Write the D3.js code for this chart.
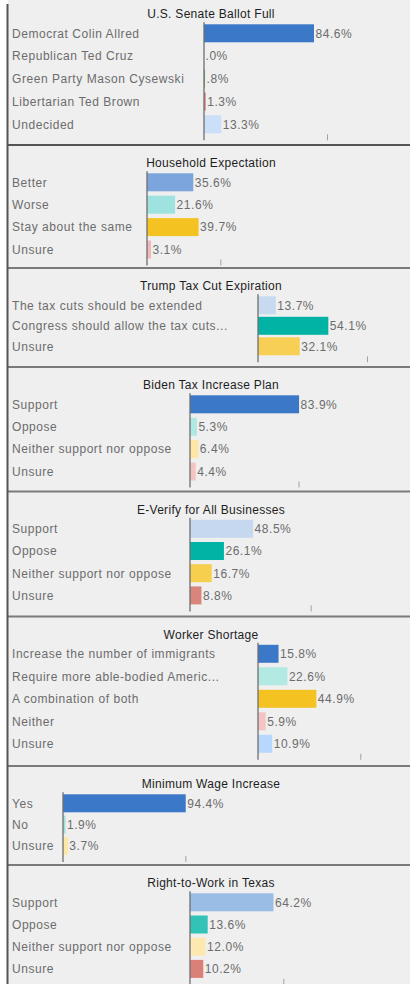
<!DOCTYPE html>
<html><head><meta charset="utf-8">
<script src="https://cdn.jsdelivr.net/npm/d3@7"></script>
<style>
html,body{margin:0;padding:0;background:#fff;}
svg{display:block;}
text{font-family:"Liberation Sans",Arial,sans-serif;}
</style></head>
<body><svg id="c" width="410" height="984"></svg>
<script>
const titles = ["U.S. Senate Ballot Full","Household Expectation","Trump Tax Cut Expiration","Biden Tax Increase Plan","E-Verify for All Businesses","Worker Shortage","Minimum Wage Increase","Right-to-Work in Texas"];
const cats1 = ["Democrat Colin Allred","Republican Ted Cruz","Green Party Mason Cysewski","Libertarian Ted Brown","Undecided"];
const cats2 = ["Better","Worse","Stay about the same","Unsure"];
const cats3 = ["The tax cuts should be extended","Congress should allow the tax cuts...","Unsure"];
const cats4 = ["Support","Oppose","Neither support nor oppose","Unsure"];
const cats5 = ["Support","Oppose","Neither support nor oppose","Unsure"];
const cats6 = ["Increase the number of immigrants","Require more able-bodied Americ...","A combination of both","Neither","Unsure"];
const cats7 = ["Yes","No","Unsure"];
const cats8 = ["Support","Oppose","Neither support nor oppose","Unsure"];
const vals1 = [84.6,0.0,0.8,1.3,13.3];
const vals2 = [35.6,21.6,39.7,3.1];
const vals3 = [13.7,54.1,32.1];
const vals4 = [83.9,5.3,6.4,4.4];
const vals5 = [48.5,26.1,16.7,8.8];
const vals6 = [15.8,22.6,44.9,5.9,10.9];
const vals7 = [94.4,1.9,3.7];
const vals8 = [64.2,13.6,12.0,10.2];
const refTicks = [94.6,56.4,83.8,83.5,92.8,78.7,94.1,71.8];

const categories = [cats1,cats2,cats3,cats4,cats5,cats6,cats7,cats8];
const values = [vals1,vals2,vals3,vals4,vals5,vals6,vals7,vals8];

// styles
const palettes = [
  ["#3b78c8","#6a6aa0","#7cb27c","#e07a7a","#cbdff9"],
  ["#7ba5dc","#9ee3df","#f4c322","#f0b9b9"],
  ["#c8daf0","#00b3a4","#f7cf55"],
  ["#3b78c8","#aee9e3","#fde6a6","#f2c4c4"],
  ["#c6d8ef","#00b3a4","#f7cf4f","#d9857b"],
  ["#3b78c8","#b3e9e3","#f4c322","#f2c4c4","#b7d7fd"],
  ["#3b78c8","#9ee3df","#fde6a6"],
  ["#9abde6","#33c3b6","#fde8b0","#d98077"]
];
// layout
const W = 410;
const panelTops = [-4,145,268,367,491.5,616.5,766,865];
const rowSteps = [22.75,22.4,20.5,22.4,22.2,22.5,21.3,22.2];
const axisLeft = [204,147,258,190,190,258,63,190];
const barH = 18;

const svg = d3.select("#c");
svg.append("rect").attr("x",8).attr("y",0).attr("width",W-8).attr("height",984).attr("fill","#efefef");

const x = d3.scaleLinear().domain([0,100]).range([0,130]);
const fmt = v => d3.format(".1f")(v).replace(/^0\./,".") + "%";

titles.forEach((t,i)=>{
  const top = panelTops[i];
  const step = rowSteps[i];
  const cats = categories[i];
  const n = cats.length;
  const c0 = top + 37.3;
  const p = 1 - barH/step;
  const y = d3.scaleBand().domain(cats).range([c0 - step/2, c0 - step/2 + n*step]).paddingInner(p).paddingOuter(p/2);
  const g = svg.append("g");
  g.append("text").attr("x",211).attr("y",top+22).attr("text-anchor","middle")
    .attr("font-size",12).attr("letter-spacing",0.3).attr("fill","#1e1e1e").text(t);
  const ax = axisLeft[i];
  const yc = c => y(c) + y.bandwidth()/2;
  g.selectAll(".lab").data(cats).join("text")
    .attr("x",12).attr("y",c=>yc(c)+4.3).attr("font-size",12).attr("letter-spacing",0.55)
    .attr("fill","#6c6c6c").text(c=>c);
  const data = cats.map((c,j)=>({c,v:values[i][j],col:palettes[i][j]}));
  g.selectAll(".bar").data(data).join("rect")
    .attr("x",ax).attr("y",d=>y(d.c)).attr("width",d=>x(d.v)).attr("height",y.bandwidth())
    .attr("fill",d=>d.col);
  g.selectAll(".val").data(data).join("text")
    .attr("x",d=>ax + x(d.v) + 1.5).attr("y",d=>yc(d.c)+4.3).attr("font-size",12).attr("letter-spacing",0.55)
    .attr("fill","#6c6c6c").text(d=>fmt(d.v));
  const yTop = yc(cats[0]) - 11;
  const yBot = yc(cats[n-1]) + 16;
  g.append("line").attr("x1",ax).attr("x2",ax).attr("y1",yTop).attr("y2",yBot)
    .attr("stroke","#6e6e6e").attr("stroke-width",1.3);
  const axis = d3.axisBottom(x).tickValues([refTicks[i]]).tickSize(6).tickSizeOuter(0).tickFormat("");
  const ag = g.append("g").attr("transform",`translate(${ax},${yBot-6})`).call(axis);
  ag.select(".domain").remove();
  ag.selectAll(".tick line").attr("stroke","#a0a0a0");
  if (i>0) {
    svg.append("rect").attr("x",7).attr("y",top-1).attr("width",W-7).attr("height",2).attr("fill", i===1?"#555":"#7a7a7a");
  }
});
svg.append("rect").attr("x",6.5).attr("y",4).attr("width",2).attr("height",980).attr("fill","#555");
</script></body></html>
